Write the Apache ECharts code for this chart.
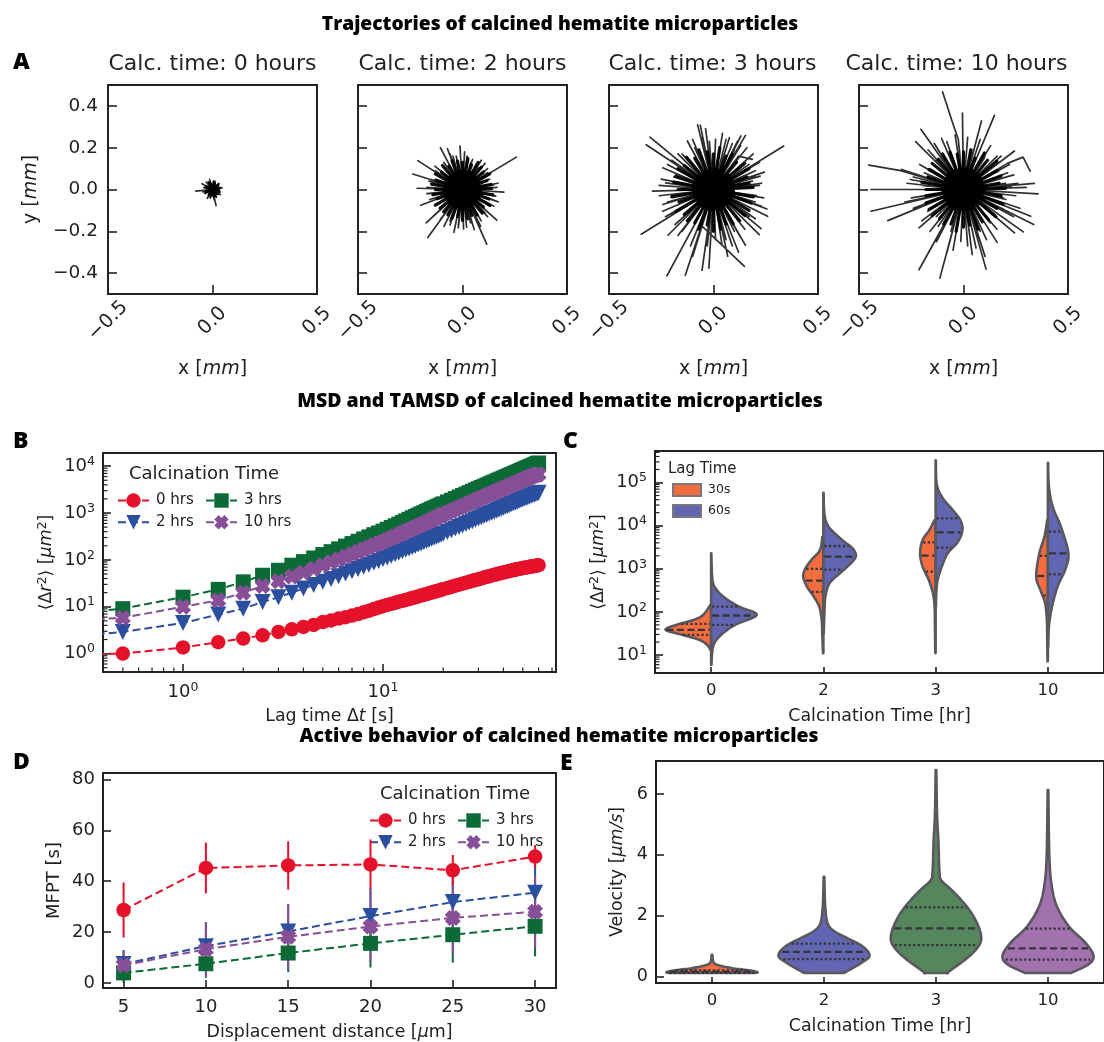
<!DOCTYPE html>
<html><head><meta charset="utf-8">
<style>html,body{margin:0;padding:0;background:#fff}#c{width:1104px;height:1042px}</style>
<script src="https://cdn.jsdelivr.net/npm/echarts@6/dist/echarts.min.js"></script>
</head><body><div id="c"></div>
<script>
// ---------- Panel A: trajectory end points (x, y in mm, optional way points); each starts at the origin
const hoursA = ['Calc. time: 0 hours','Calc. time: 2 hours','Calc. time: 3 hours','Calc. time: 10 hours'];
const rays0 = [[-.08,-.008],[-.014,.048],[.046,.008],[.017,-.077],[.008,-.05],[-.05,.028],[-.025,-.042],[.038,-.025],[.03,.025],[-.03,.035],[.012,.04],[-.045,-.012]];
const core0 = [[.03,0],[.024,.018],[.01,.03],[-.012,.03],[-.028,.012],[-.03,-.01],[-.016,-.026],[.006,-.03],[.024,-.02]];
const fringe0 = [[.036,.01],[.03,.028],[.005,.04],[-.02,.036],[-.04,.01],[-.036,-.018],[-.01,-.04],[.018,-.036],[.036,-.012]];
const rays2 = [[.258,.155],[-.012,.208],[-.106,.2],[-.072,.195],[-.214,.138],[-.238,.074],[-.217,.006],[.198,-.013],[.171,-.059],[.164,-.147],[.116,-.261],[.056,-.192],[.005,-.189],[-.041,-.205],[-.166,-.23],[-.174,-.16],[-.2,-.075],[.108,.125],[.048,.144],[.15,.022],[-.14,-.128],[-.106,-.144],[.087,-.176],[-.157,-.048],[-.149,.048],[.074,.104],[.133,-.08],[.159,-.032],[-.046,.16],[.022,.16],[-.132,.112],[-.02,-.184],[-.089,-.176],[.039,-.16],[.108,-.112],[.13,.05],[.12,.08],[-.17,.01],[-.16,-.02],[.15,-.05],[-.06,-.17],[.07,-.15],[.17,.03],[.165,.01],[.15,-.08],[.12,-.13],[.09,-.15],[.02,-.18],[-.02,-.17],[-.06,-.15],[-.12,-.11],[-.16,-.06],[-.17,-.02],[-.16,.04],[-.13,.09],[-.09,.13],[-.06,.17],[-.03,.16],[.01,.18],[.04,.13],[.07,.12],[.09,.14],[.12,.1]];
const core2 = [[.078,.012],[.07,.042],[.056,.06],[.034,.078],[.012,.08],[-.012,.082],[-.034,.072],[-.056,.058],[-.07,.042],[-.08,.012],[-.082,-.006],[-.072,-.034],[-.062,-.056],[-.042,-.072],[-.012,-.082],[.012,-.08],[.038,-.072],[.058,-.056],[.072,-.034],[.082,-.01]];
const fringe2 = [[.14,.005],[.135,.024],[.118,.043],[.13,.075],[.1,.084],[.09,.107],[.075,.13],[.043,.118],[.026,.148],[0,.13],[-.024,.136],[-.05,.137],[-.065,.113],[-.096,.115],[-.1,.084],[-.13,.075],[-.127,.046],[-.148,.026],[-.13,0],[-.142,-.025],[-.122,-.044],[-.13,-.075],[-.107,-.09],[-.09,-.107],[-.07,-.121],[-.05,-.137],[-.023,-.13],[0,-.148],[.025,-.14],[.045,-.124],[.07,-.121],[.095,-.113],[.1,-.084],[.13,-.075],[.127,-.046],[.145,-.026]];
const rays3 = [[-.304,.251],[-.322,.214],[-.076,.309],[-.063,.307],[-.038,.291],[-.125,.232],[.043,.269],[.076,.248],[.131,.256],[.153,.259],[.115,.232],[.12,.16,.186,.144],[.336,.208],[.243,.083],[.223,.064],[.186,.04],[.206,-.029],[.256,-.093],[.259,-.128],[.228,-.187],[.219,-.216],[.153,-.267],[-.06,-.17,.148,-.368],[.068,-.32],[-.022,-.376],[-.055,-.387],[-.135,-.41],[-.223,-.413],[-.346,-.214],[-.218,-.219],[-.184,-.168],[-.243,-.104],[-.243,-.072],[-.292,-.008],[-.229,.032],[-.243,.104],[-.168,.112],[-.15,.17],[-.2,.14],[-.09,.2],[.03,.2],[.1,.19],[.17,.12],[.2,.09],[.22,.02],[.2,-.06],[.17,-.13],[.1,-.2],[.04,-.26],[-.03,-.27],[-.08,-.25],[-.15,-.2],[-.2,-.12],[-.2,-.03],[-.19,.06],[.12,-.3],[-.1,-.32],[.16,.2],[.13,.21],[.09,.22],[.06,.24],[.01,.24],[-.02,.23],[-.06,.25],[-.1,.24],[-.17,.17],[-.22,.12],[-.25,.05],[-.26,.02],[-.26,-.03],[-.22,-.06],[-.23,-.13],[-.17,-.22],[-.11,-.27],[-.07,-.22],[.01,-.24],[.06,-.24],[.09,-.27],[.13,-.23],[.15,-.19],[.2,-.14],[.23,-.08],[.24,-.04],[.23,.03],[.2,.06],[.22,.13],[.19,.17]];
const core3 = [[.085,.015],[.078,.046],[.065,.065],[.038,.085],[.015,.09],[-.015,.09],[-.038,.08],[-.065,.065],[-.078,.046],[-.09,.015],[-.09,-.012],[-.08,-.038],[-.068,-.06],[-.046,-.08],[-.015,-.09],[.015,-.088],[.042,-.08],[.065,-.06],[.08,-.038],[.09,-.012]];
const fringe3 = [[.19,.01],[.17,.03],[.16,.06],[.17,.1],[.15,.125],[.11,.13],[.09,.17],[.06,.16],[.03,.2],[0,.17],[-.03,.18],[-.07,.19],[-.09,.15],[-.13,.155],[-.14,.115],[-.17,.1],[-.18,.065],[-.19,.035],[-.17,0],[-.2,-.035],[-.165,-.06],[-.18,-.105],[-.14,-.12],[-.125,-.15],[-.09,-.16],[-.07,-.19],[-.03,-.17],[0,-.2],[.035,-.19],[.06,-.165],[.095,-.165],[.125,-.15],[.15,-.125],[.17,-.1],[.18,-.065],[.19,-.035]];
const rays10 = [[-.025,.24,-.055,.328,-.1,.467],[-.005,.365],[.086,.328],[.148,.355],[-.204,.288],[-.229,.229],[-.105,.245],[.244,.184],[.21,.125,.285,.155,.319,.088],[.339,.029],[.357,-.021],[.322,-.128],[.336,-.168],[.286,-.203],[.244,-.208],[.161,-.253],[.108,-.381],[.103,-.32],[.042,-.312],[-.013,-.248],[-.113,-.424],[-.213,-.384],[-.08,-.304],[-.213,-.184],[-.362,-.149],[-.442,-.104],[-.171,-.104],[-.442,0],[-.296,.096],[-.3,.09,-.453,.117],[-.254,.048],[-.188,.08],[-.105,.16],[.103,.16],[.161,.16],[.211,.08],[.228,.016],[.203,-.048],[.194,-.096],[.128,-.16],[-.121,-.176],[-.022,.144],[.045,.176],[-.16,.1],[-.2,.02],[-.17,-.06],[-.13,-.13],[-.06,-.2],[.03,-.22],[.08,-.2],[.15,-.12],[.19,-.04],[.2,.03],[.17,.09],[.1,.15],[.04,.19],[-.07,.17],[-.13,.14],[-.24,.06],[-.27,.03],[-.25,-.04],[-.28,-.06],[-.24,-.09],[-.2,-.15],[-.16,-.2],[-.13,-.25],[-.05,-.29],[.02,-.27],[.06,-.28],[.11,-.24],[.16,-.19],[.2,-.17],[.24,-.13],[.27,-.09],[.25,-.03],[.3,.01],[.26,.03],[.24,.07],[.22,.12],[.18,.16],[.13,.21],[.08,.24],[.02,.25],[-.04,.26],[-.08,.23],[-.14,.22],[-.17,.19],[-.21,.12]];
const core10 = [[.09,.015],[.08,.046],[.065,.07],[.038,.085],[.014,.092],[-.014,.092],[-.042,.085],[-.068,.068],[-.08,.046],[-.092,.014],[-.092,-.01],[-.085,-.038],[-.07,-.065],[-.046,-.085],[-.015,-.092],[.014,-.09],[.042,-.085],[.068,-.065],[.085,-.038],[.092,-.01]];
const fringe10 = [[.2,.005],[.17,.03],[.18,.065],[.16,.09],[.16,.135],[.115,.14],[.1,.175],[.055,.15],[.035,.19],[0,.18],[-.03,.17],[-.065,.18],[-.1,.17],[-.12,.145],[-.15,.125],[-.165,.095],[-.17,.06],[-.2,.035],[-.18,0],[-.18,-.03],[-.18,-.065],[-.165,-.095],[-.15,-.125],[-.115,-.14],[-.095,-.165],[-.06,-.165],[-.035,-.2],[0,-.18],[.03,-.17],[.07,-.19],[.09,-.155],[.12,-.145],[.155,-.13],[.16,-.09],[.19,-.07],[.18,-.03]];

// ---------- Panel B: MSD vs lag time (first entry: line reaching the left axis)
const lagB = [.37,.5,1,1.5,2,2.5,3,3.5,4,4.5,5,5.5,6,6.5,7,7.5,8,8.5,9,9.5,10,11,12,13,14,15,16,17,18,19,20,22,24,26,28,30,32,34,36,38,40,42,44,46,48,50,52,54,56,58,60];
const msd0 = [.98,1.0,1.35,1.75,2.1,2.46,2.9,3.3,3.7,4.1,4.7,5.1,5.6,6.0,6.5,7.0,7.6,8.2,8.9,9.6,10.3,11.5,12.8,14,15.3,16.6,18,19.4,20.8,22.2,23.7,26.6,29.6,32.6,35.7,38.8,41.9,45,48,51,54,56.8,59.5,62,64.5,67,69,71,73,75,77];
const msd2 = [2.6,2.9,4.5,6.8,9.1,12.6,16,20,24.5,29,34,39,45,51,57,64,71,79,87,95,104,122,142,164,187,212,238,266,296,327,360,430,505,585,670,760,860,960,1070,1180,1300,1420,1550,1680,1820,1960,2100,2250,2400,2550,2700];
const msd3 = [8,9.1,16,23.5,34,47,60,77,92,110,130,150,172,197,223,250,280,310,345,375,410,490,580,680,790,900,1020,1150,1280,1420,1570,1870,2200,2540,2910,3300,3710,4150,4610,5080,5570,6090,6630,7190,7770,8400,9000,9650,10300,11000,11700];
const msd10 = [5.4,5.8,10,13.7,20,27.7,35,44,54,65,77,90,103,118,133,150,167,185,205,225,245,292,345,402,464,530,600,675,755,840,930,1110,1300,1510,1730,1970,2220,2490,2760,3050,3350,3660,3990,4330,4680,5050,5420,5810,6200,6450,6700];
const lagBFine = [10.5,11.5,12.5,13.5,14.5,15.5,16.5,17.5,18.5,19.5,21,23,25,27,29,31,33,35,37,39,41,43,45,47,49,51,53,55,57,59];
const msd0Fine = [10.9,12.1,13.4,14.6,15.9,17.3,18.7,20.1,21.5,23,25.1,28.1,31.1,34.1,37.2,40.3,43.5,46.5,49.5,52.5,55.4,58.2,60.8,63.3,65.8,68,70,72,74,76];
const msd2Fine = [113,132,153,175,199,225,252,281,311,343,394,467,545,627,715,810,910,1015,1125,1240,1360,1485,1615,1750,1890,2030,2175,2325,2475,2625];
const msd3Fine = [450,535,630,735,845,960,1085,1215,1350,1495,1720,2035,2370,2725,3105,3505,3930,4380,4845,5325,5830,6360,6910,7480,8085,8700,9325,9975,10650,11350];
const msd10Fine = [268,318,373,433,497,565,637,715,797,885,1020,1205,1405,1620,1850,2095,2355,2625,2905,3200,3505,3825,4160,4505,4865,5235,5615,6005,6325,6575];

// ---------- Panels C and E: violin outlines [value, half width as a share of the category band]; quartiles [q1, median, q3]
const calcCats = ['0','2','3','10'];
// C values are log10(μm²)
const c30 = [
 [[2.164,.006],[1.933,.07],[1.817,.153],[1.701,.306],[1.586,.407],[1.47,.26],[1.355,.107],[1.239,.037],[1.123,.006]],
 [[3.744,.009],[3.435,.03],[3.204,.107],[3.012,.159],[2.819,.18],[2.588,.147],[2.356,.086],[2.125,.037],[1.817,.015],[1.432,.009],[1.046,.003]],
 [[4.129,.009],[3.898,.055],[3.667,.116],[3.358,.138],[3.05,.116],[2.742,.061],[2.434,.024],[2.125,.009],[1.663,.006],[1.046,.003]],
 [[4.129,.006],[3.744,.03],[3.358,.076],[2.819,.104],[2.511,.067],[2.202,.024],[1.817,.009],[1.432,.006],[.854,.003]]];
const c60 = [
 [[3.358,.002],[2.819,.009],[2.588,.03],[2.356,.107],[2.125,.245],[1.933,.407],[1.701,.214],[1.509,.107],[1.316,.037],[1.123,.012],[.776,.003]],
 [[4.761,.002],[4.283,.009],[3.975,.046],[3.667,.168],[3.474,.26],[3.297,.29],[3.127,.245],[2.896,.147],[2.665,.055],[2.356,.018],[1.971,.009],[1.509,.003]],
 [[5.516,.002],[4.977,.009],[4.669,.055],[4.36,.153],[4.129,.22],[3.898,.239],[3.628,.199],[3.358,.107],[3.05,.055],[2.742,.018],[2.434,.006],[2.125,.003]],
 [[5.455,.002],[4.9,.009],[4.437,.043],[3.975,.116],[3.358,.183],[2.973,.153],[2.588,.086],[2.125,.037],[1.663,.009],[1.2,.003]]];
const c30Quart = [[1.47,1.586,1.724],[2.464,2.726,2.996],[2.934,3.304,3.613],[2.38,2.834,3.297]];
const c60Quart = [[1.701,1.917,2.125],[2.981,3.281,3.528],[3.489,3.844,4.168],[2.873,3.358,3.859]];
// E values are μm/s
const velocity = [
 [[.71,.004],[.49,.012],[.38,.046],[.27,.183],[.2,.33],[.14,.407],[.11,.38]],
 [[3.28,.003],[2.41,.009],[1.86,.024],[1.6,.055],[1.42,.122],[1.26,.208],[.985,.346],[.68,.407],[.44,.33],[.11,.177]],
 [[6.79,.003],[5.36,.009],[4.49,.021],[3.5,.03],[3.17,.046],[2.85,.138],[2.3,.275],[1.75,.367],[1.26,.404],[.93,.367],[.55,.26],[.14,.107],[.11,.107]],
 [[6.13,.003],[3.94,.012],[2.96,.034],[2.3,.08],[1.64,.187],[1.09,.339],[.66,.407],[.38,.355],[.11,.202]]];
const velocityQuart = [[.12,.16,.2],[.57,.81,1.08],[1.03,1.58,2.27],[.55,.92,1.57]];

// ---------- Panel D: mean first passage time
const distD = [5,10,15,20,25,30];
const mfpt0 = [28.7,45.2,46.2,46.6,44.3,49.7];
const mfpt2 = [7.5,14.5,20.3,26.3,31.8,35.5];
const mfpt3 = [4,7.6,11.8,15.6,19,22.3];
const mfpt10 = [7,13.3,18.2,22.2,25.6,28];
const err0 = [10.8,10,9.5,9.8,6,4.5];
const err2 = [5.5,9.5,10.5,11,10,11.5];
const err3 = [4,5.5,7.5,9.5,11,11.8];
const err10 = [6,10.7,12.8,14,14,14];

// ---------- Tick labels
const ticksAx = [-.5,0,.5];
const ticksAy = [-.4,-.2,0,.2,.4];
const ticksBx = [1,10];
const ticksBy = [1,10,100,1000,10000];
const minorBx = [.4,.5,.6,.7,.8,.9,2,3,4,5,6,7,8,9,20,30,40,50,60,70];
const minorBy = [.5,.6,.7,.8,.9,2,3,4,5,6,7,8,9,20,30,40,50,60,70,80,90,200,300,400,500,600,700,800,900,2000,3000,4000,5000,6000,7000,8000,9000];
const ticksCy = [10,100,1000,10000,100000];
const minorCy = [5,6,7,8,9,20,30,40,50,60,70,80,90,200,300,400,500,600,700,800,900,2000,3000,4000,5000,6000,7000,8000,9000,20000,30000,40000,50000,60000,70000,80000,90000,200000,300000,400000,500000];
const ticksDx = [5,10,15,20,25,30];
const ticksDy = [0,20,40,60,80];
const ticksEy = [0,2,4,6];

// ---------- Styling
const FONT = 'DejaVu Sans', INK = '#222';
const COL = {red:'#e5112b', blue:'#2a4f9e', green:'#0b6a35', purple:'#874f97'};
const XSYM = 'path://M3,0 L5,2 L7,0 L10,3 L8,5 L10,7 L7,10 L5,8 L3,10 L0,7 L2,5 L0,3 Z';
const logFmt = v => '10{s|'+Math.round(Math.log10(v))+'}';
const richTick = {s:{fontSize:12.5,fontFamily:FONT,color:INK,padding:[0,0,9,0]}};
const noLine = {show:false,onZero:false};

const grids = [
 {left:108,top:85,width:209,height:209},{left:358,top:85,width:209,height:209},
 {left:609,top:85,width:209,height:209},{left:859,top:85,width:209,height:209},
 {left:103,top:453,width:453,height:219},
 {left:655,top:451,width:454,height:222},
 {left:103,top:773,width:453,height:218},
 {left:656,top:761,width:454,height:222}
].map(g=>({...g,show:true,borderColor:INK,borderWidth:2,backgroundColor:'transparent',containLabel:false,z:1}));

const tick = (len,values)=>({show:true,inside:true,length:len,lineStyle:{color:INK,width:1.6},...(values?{customValues:values}:{})});
const xAxes=[], yAxes=[];
const aName = {fontSize:19,fontFamily:FONT,color:INK,rich:{i:{fontStyle:'italic',fontSize:19,fontFamily:FONT,color:INK}}};
for(let i=0;i<4;i++){
 xAxes.push({type:'value',gridIndex:i,position:'bottom',min:-.5,max:.5,interval:.5,splitLine:{show:false},axisLine:noLine,axisTick:tick(9),
  axisLabel:{rotate:45,align:'center',verticalAlign:'middle',margin:27,fontSize:19.5,fontFamily:FONT,color:INK,formatter:v=>String(v.toFixed(1)).replace('-','−')},
  name:'x [{i|mm}]',nameLocation:'middle',nameGap:66,nameTextStyle:aName});
 yAxes.push({type:'value',gridIndex:i,position:'left',min:-.5,max:.5,splitLine:{show:false},axisLine:noLine,axisTick:tick(9,ticksAy),
  axisLabel:{show:i===0,customValues:ticksAy,margin:10,fontSize:18.5,fontFamily:FONT,color:INK,formatter:v=>v.toFixed(1).replace('-','−')},
  ...(i===0?{name:'y [{i|mm}]',nameLocation:'middle',nameGap:67,nameTextStyle:aName}:{})});
}
const nameRich = {i:{fontStyle:'italic',fontSize:17.4,fontFamily:FONT,color:INK},u:{fontSize:12.5,fontFamily:FONT,color:INK,padding:[0,0,7,0]}};
const rName = '⟨Δ{i|r}{u|2}⟩ [{i|μm}{u|2}]';
const nameStyle = {fontSize:17.4,fontFamily:FONT,color:INK,rich:nameRich};
// B
xAxes.push({type:'log',gridIndex:4,position:'bottom',min:.398,max:73.3,splitLine:{show:false},axisLine:noLine,minorTick:{show:false},axisTick:tick(8,ticksBx),
 axisLabel:{customValues:ticksBx,margin:9,fontSize:18,fontFamily:FONT,color:INK,formatter:logFmt,rich:richTick},
 name:'Lag time Δ{i|t} [s]',nameLocation:'middle',nameGap:36,nameTextStyle:nameStyle});
yAxes.push({type:'log',gridIndex:4,position:'left',min:.405,max:19100,splitLine:{show:false},axisLine:noLine,minorTick:{show:false},axisTick:tick(8,ticksBy),
 axisLabel:{customValues:ticksBy,margin:8,fontSize:18,fontFamily:FONT,color:INK,formatter:logFmt,rich:richTick},
 name:rName,nameLocation:'middle',nameGap:47,nameTextStyle:nameStyle});
// C
xAxes.push({type:'category',gridIndex:5,position:'bottom',data:calcCats,axisLine:noLine,axisTick:{...tick(6),alignWithLabel:true},splitLine:{show:false},
 axisLabel:{margin:9,fontSize:16.5,fontFamily:FONT,color:INK},
 name:'Calcination Time [hr]',nameLocation:'middle',nameGap:35,nameTextStyle:nameStyle});
yAxes.push({type:'log',gridIndex:5,position:'left',min:3.84,max:537000,splitLine:{show:false},axisLine:noLine,minorTick:{show:false},axisTick:tick(8,ticksCy),
 axisLabel:{customValues:ticksCy,margin:8,fontSize:18,fontFamily:FONT,color:INK,formatter:logFmt,rich:richTick},
 name:rName,nameLocation:'middle',nameGap:47,nameTextStyle:nameStyle});
// D
xAxes.push({type:'value',gridIndex:6,position:'bottom',min:3.75,max:31.27,splitLine:{show:false},axisLine:noLine,axisTick:tick(8,ticksDx),
 axisLabel:{customValues:ticksDx,margin:10,fontSize:18,fontFamily:FONT,color:INK},
 name:'Displacement distance [{i|μ}m]',nameLocation:'middle',nameGap:36,nameTextStyle:nameStyle});
yAxes.push({type:'value',gridIndex:6,position:'left',min:-1.93,max:82.5,splitLine:{show:false},axisLine:noLine,axisTick:tick(8,ticksDy),
 axisLabel:{customValues:ticksDy,margin:8,fontSize:18,fontFamily:FONT,color:INK},
 name:'MFPT [s]',nameLocation:'middle',nameGap:40,nameTextStyle:{...nameStyle,fontSize:18}});
// E
xAxes.push({type:'category',gridIndex:7,position:'bottom',data:calcCats,axisLine:noLine,axisTick:{...tick(6),alignWithLabel:true},splitLine:{show:false},
 axisLabel:{margin:9,fontSize:16.5,fontFamily:FONT,color:INK},
 name:'Calcination Time [hr]',nameLocation:'middle',nameGap:35,nameTextStyle:nameStyle});
yAxes.push({type:'value',gridIndex:7,position:'left',min:-.217,max:7.09,splitLine:{show:false},axisLine:noLine,axisTick:tick(8,ticksEy),
 axisLabel:{customValues:ticksEy,margin:8,fontSize:17.5,fontFamily:FONT,color:INK},
 name:'Velocity [{i|μm/s}]',nameLocation:'middle',nameGap:30,nameTextStyle:nameStyle});

// ---------- Series builders
const series=[];
function traj(list){const out=[];list.forEach(r=>{out.push([0,0]);for(let i=0;i<r.length;i+=2)out.push([r[i],r[i+1]]);out.push(['-','-']);});return out;}
[[rays0,core0,fringe0,3.2],[rays2,core2,fringe2,5],[rays3,core3,fringe3,5.5],[rays10,core10,fringe10,5.5]].forEach(([r,c,f,w],i)=>{
 const line=(list,width,color)=>series.push({type:'line',xAxisIndex:i,yAxisIndex:i,data:traj(list),showSymbol:false,connectNulls:false,silent:true,lineStyle:{color,width,cap:'round'}});
 line(r,1.7,'rgba(10,10,10,.85)');
 line(f,i===0?2:3.2,'rgba(0,0,0,.95)');
 line(c,w,'#000');
});
function minorTicks(ax,values,fixed,isX){
 series.push({type:'custom',xAxisIndex:ax,yAxisIndex:ax,silent:true,z:3,
  data:values.map(v=>isX?[v,fixed]:[fixed,v]),
  renderItem:(p,api)=>{const c=api.coord([api.value(0),api.value(1)]);
   const s=isX?[c[0],c[1],c[0],c[1]-4.5]:[c[0],c[1],c[0]+4.5,c[1]];
   return {type:'line',shape:{x1:s[0],y1:s[1],x2:s[2],y2:s[3]},style:{stroke:INK,lineWidth:1.2}};}});
}
minorTicks(4,minorBx,.405,true);
minorTicks(4,minorBy,.398,false);
const dash=[8,4];
const styleB=[['0 hrs',COL.red,'circle',14.5,0],['2 hrs',COL.blue,'triangle',16,180],['3 hrs',COL.green,'rect',15,0],['10 hrs',COL.purple,XSYM,16,0]];
[[msd0,msd0Fine],[msd2,msd2Fine],[msd3,msd3Fine],[msd10,msd10Fine]].forEach(([vals,fine],i)=>{
 const [name,color,symbol,size,rot]=styleB[i];
 const pts=lagB.map((t,k)=>[t,vals[k]]).concat(lagBFine.map((t,k)=>[t,fine[k]])).sort((a,b)=>a[0]-b[0]);
 series.push({type:'line',name,xAxisIndex:4,yAxisIndex:4,data:pts,symbol,symbolSize:size,symbolRotate:rot,showAllSymbol:true,clip:true,
  itemStyle:{color},lineStyle:{color,width:2,type:dash},z:i===3?6:(i===0?6:i===1?4:5)});
});
// D
const ordD=[1,2,3,0];
[[mfpt0,err0],[mfpt2,err2],[mfpt3,err3],[mfpt10,err10]].forEach((pair,i)=>{
 const color=styleB[i][1];
 series.push({type:'custom',xAxisIndex:6,yAxisIndex:6,silent:true,z:4+ordD.indexOf(i)*.1,
  data:distD.map((d,k)=>[d,pair[0][k]-pair[1][k],pair[0][k]+pair[1][k]]),
  renderItem:(p,api)=>{const a=api.coord([api.value(0),api.value(1)]),b=api.coord([api.value(0),api.value(2)]);
   return {type:'line',shape:{x1:a[0],y1:a[1],x2:b[0],y2:b[1]},style:{stroke:color,lineWidth:2}};}});
});
[mfpt0,mfpt2,mfpt3,mfpt10].forEach((vals,i)=>{
 const [name,color,symbol,size,rot]=styleB[i];
 series.push({type:'line',name,xAxisIndex:6,yAxisIndex:6,data:distD.map((d,k)=>[d,vals[k]]),symbol,symbolSize:size,symbolRotate:rot,
  itemStyle:{color},lineStyle:{color,width:2,type:dash},z:i===0?7:(i===3?6.5:i===2?6:5.5)});
});

// Violins
function smoothProfile(p){const o=[];for(let i=0;i<p.length-1;i++){const a=p[Math.max(0,i-1)],b=p[i],c=p[i+1],d=p[Math.min(p.length-1,i+2)];
 for(let t=0;t<1;t+=.2){const f=(k)=>.5*(2*b[k]+(c[k]-a[k])*t+(2*a[k]-5*b[k]+4*c[k]-d[k])*t*t+(3*b[k]-a[k]-3*c[k]+d[k])*t*t*t);o.push([f(0),f(1)]);}}
 o.push(p[p.length-1]);return o;}
function widthAt(p,v){for(let i=0;i<p.length-1;i++){if(v<=p[i][0]&&v>=p[i+1][0]){const t=(v-p[i+1][0])/(p[i][0]-p[i+1][0]);return p[i+1][1]+t*(p[i][1]-p[i+1][1]);}}return 0;}
function violin(profiles,quarts,sides,toVal,fills){
 return (params,api)=>{
  const i=params.dataIndex,p=profiles[i],q=quarts[i],sm=smoothProfile(p);
  const x0=api.coord([i,toVal(p[0][0])])[0],bw=api.coord([i+1,toVal(p[0][0])])[0]-x0;
  const Y=v=>api.coord([i,toVal(v)])[1];
  const pts=[];
  if(sides<=0)sm.forEach(s=>pts.push([x0-Math.max(s[1],0)*bw,Y(s[0])]));
  else sm.forEach(s=>pts.push([x0+Math.max(s[1],0)*bw,Y(s[0])]));
  if(sides===0){for(let k=sm.length-1;k>=0;k--)pts.push([x0+Math.max(sm[k][1],0)*bw,Y(sm[k][0])]);}
  else {pts.unshift([x0,Y(p[0][0])]);pts.push([x0,Y(p[p.length-1][0])]);}
  const kids=[{type:'polygon',shape:{points:pts},style:{fill:fills[i],stroke:'#5a585e',lineWidth:2.6,lineJoin:'round'}}];
  q.forEach((v,k)=>{const w=widthAt(p,v)*bw,y=Y(v);
   const x1=sides>0?x0+1:x0-w+1,x2=sides<0?x0-1:x0+w-1;
   kids.push({type:'line',shape:{x1,y1:y,x2,y2:y},style:{stroke:'#36363a',lineWidth:2.3,lineDash:k===1?[7,3.5]:[2.3,2.3]}});});
  return {type:'group',children:kids};
 };
}
const logV=e=>Math.pow(10,e), linV=v=>v;
const ORANGE='#f56c3e',BLUEV='#6266b2';
series.push({type:'custom',xAxisIndex:5,yAxisIndex:5,silent:true,z:3,data:minorCy.map(v=>[0,v]),
 renderItem:(p,api)=>{const c=api.coord([0,api.value(1)]);const x=grids[5].left;return {type:'line',shape:{x1:x,y1:c[1],x2:x+4.5,y2:c[1]},style:{stroke:INK,lineWidth:1.2}};}});
series.push({type:'custom',name:'30s',xAxisIndex:5,yAxisIndex:5,silent:true,z:4,data:calcCats.map((c,i)=>[c,logV(c30Quart[i][1])]),itemStyle:{color:ORANGE,borderColor:'#77777c',borderWidth:2},renderItem:violin(c30,c30Quart,-1,logV,calcCats.map(()=>ORANGE))});
series.push({type:'custom',name:'60s',xAxisIndex:5,yAxisIndex:5,silent:true,z:4,data:calcCats.map((c,i)=>[c,logV(c60Quart[i][1])]),itemStyle:{color:BLUEV,borderColor:'#77777c',borderWidth:2},renderItem:violin(c60,c60Quart,1,logV,calcCats.map(()=>BLUEV))});
series.push({type:'custom',xAxisIndex:7,yAxisIndex:7,silent:true,z:4,data:calcCats.map((c,i)=>[c,velocityQuart[i][1]]),renderItem:violin(velocity,velocityQuart,0,linV,[ORANGE,BLUEV,'#56875c','#a172ae'])});

// ---------- Legends
const lg=(left,top,names)=>({left,top,data:names,orient:'vertical',itemWidth:31,itemHeight:18,itemGap:6.8,padding:0,selectedMode:false,textStyle:{fontSize:15,fontFamily:FONT,color:INK,padding:[0,0,0,2]}});
const legends=[
 lg(117,493,['0 hrs','2 hrs']),lg(205,493,['3 hrs','10 hrs']),
 lg(369,813,['0 hrs','2 hrs']),lg(457,813,['3 hrs','10 hrs']),
 {left:672,top:483,data:['30s','60s'],orient:'vertical',icon:'rect',itemWidth:28,itemHeight:12,itemGap:7,padding:0,selectedMode:false,textStyle:{fontSize:12.5,fontFamily:FONT,color:INK,padding:[0,0,0,2]}}
];

// ---------- Headings
const txt=(text,x,y,size,opt={})=>({type:'text',x,y,z:20,style:{text,fontSize:size,fontFamily:FONT,fill:INK,align:'center',verticalAlign:'middle',...opt}});
const head={fontFamily:'Open Sans',fontWeight:800,fill:'#000'};
const letter={fontFamily:'Open Sans',fontWeight:800,fill:'#000',align:'left'};
const titleCentres=[212.5,462.5,712.5,956.5];
const graphics=[
 txt('Trajectories of calcined hematite microparticles',560,25,19.2,head),
 txt('MSD and TAMSD of calcined hematite microparticles',560,401,19.5,head),
 txt('Active behavior of calcined hematite microparticles',559,736,19.4,head),
 txt('A',13,62,23,letter),txt('B',13,441,23,letter),txt('C',563,441,23,letter),txt('D',13,762,23,letter),txt('E',560,763,23,letter),
 ...hoursA.map((t,i)=>txt(t,titleCentres[i],64.5,22)),
 txt('Calcination Time',204,474,18),
 txt('Calcination Time',455,794,18),
 txt('Lag Time',668,469,15,{align:'left'})
];

const chart=echarts.init(document.getElementById('c'),null,{renderer:'canvas'});
chart.setOption({animation:false,backgroundColor:'#fff',grid:grids,xAxis:xAxes,yAxis:yAxes,series,legend:legends,graphic:graphics});
</script></body></html>
